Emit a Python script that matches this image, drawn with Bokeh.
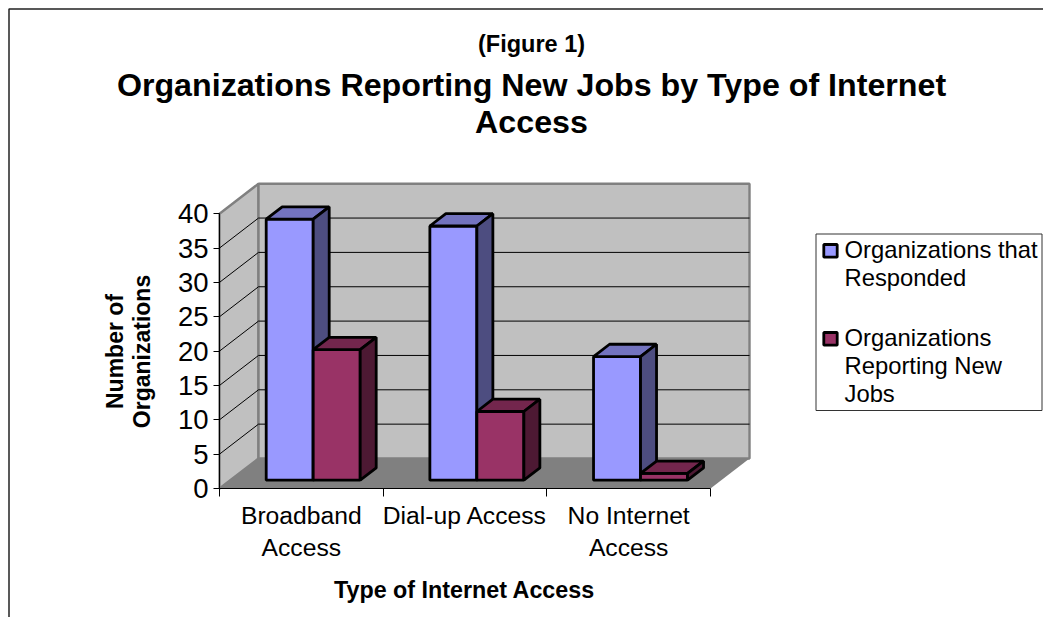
from bokeh.plotting import figure
from bokeh.models import Label, FixedTicker, BoxAnnotation, Range1d, LinearAxis
from bokeh.embed import file_html
from bokeh.resources import INLINE

categories = ["Broadband\nAccess", "Dial-up Access", "No Internet\nAccess"]
responded = [38, 37, 18]
new_jobs = [19, 10, 1]
series = [("Organizations that\nResponded", responded, "#9999FF", "#7373BF", "#4D4D80"),
          ("Organizations\nReporting New\nJobs", new_jobs, "#993366", "#73264D", "#4D1933")]
y_ticks = [0, 5, 10, 15, 20, 25, 30, 35, 40]

W, H = 1043, 617
X0, Y0 = 219, 488            # pixel position of the axes' origin
PX_X = 163.67                # px per category
PX_Y = 6.87                  # px per unit

def cx(px):  # pixel -> data x
    return (px - X0) / PX_X
def cy(px):  # pixel -> data y
    return (Y0 - px) / PX_Y

DX, DY = 39 / PX_X, 30 / PX_Y           # wall depth
BX, BY = 16 / PX_X, 12.3 / PX_Y         # bar depth
OX, OY = 46.7 / PX_X, 8.3 / PX_Y        # first bar's offset
BW = 47 / PX_X                          # bar width
EDGE = 2.8

p = figure(width=W, height=H, toolbar_location=None, output_backend="svg",
           x_range=Range1d(cx(0), cx(W)), y_range=Range1d(cy(H), cy(0)),
           min_border=0, x_axis_type=None, y_axis_type=None,
           background_fill_color="white", border_fill_color="white", outline_line_color=None)
p.grid.visible = False

# Walls and floor
GRAY = "#808080"
p.patch([0, DX, DX, 0], [0, DY, 40 + DY, 40], fill_color="#C0C0C0", line_color=GRAY, line_width=2.4)
p.patch([DX, 3 + DX, 3 + DX, DX], [DY, DY, 40 + DY, 40 + DY], fill_color="#C0C0C0", line_color=GRAY, line_width=2.4)
p.patch([0, 3, 3 + DX, DX], [0, 0, DY, DY], fill_color=GRAY, line_color=None)
for v in y_ticks[1:-1]:
    p.line([0, DX, 3 + DX], [v, v + DY, v + DY], line_color="black", line_width=1)

# Bars
for i in range(3):
    for s, (_, vals, front, top, side) in enumerate(series):
        x0 = i + OX + s * BW
        x1 = x0 + BW
        y0 = OY
        y1 = OY + vals[i]
        p.patch([x0, x1, x1, x0], [y0, y0, y1, y1], fill_color=front, line_color="black", line_width=EDGE)
        p.patch([x0, x1, x1 + BX, x0 + BX], [y1, y1, y1 + BY, y1 + BY], fill_color=top, line_color="black", line_width=EDGE)
        p.patch([x1, x1 + BX, x1 + BX, x1], [y0, y0 + BY, y1 + BY, y1], fill_color=side, line_color="black", line_width=EDGE)

# Axes
ya = LinearAxis(fixed_location=0, ticker=FixedTicker(ticks=y_ticks), bounds=(0, 40),
                major_tick_in=0, major_tick_out=6, minor_tick_in=0, minor_tick_out=0,
                axis_line_color="black", major_label_text_font="Liberation Sans",
                major_label_text_font_size="27.5px", major_label_text_color="black",
                major_label_standoff=5)
p.add_layout(ya, "left")

xa = LinearAxis(fixed_location=0,
                ticker=FixedTicker(ticks=[0.5, 1.5, 2.5], minor_ticks=[0, 1, 2, 3]),
                major_label_overrides={0.5: categories[0], 1.5: categories[1], 2.5: categories[2]},
                bounds=(0, 3), major_tick_in=0, major_tick_out=0, minor_tick_in=0, minor_tick_out=8,
                axis_line_color="black", major_label_text_font="Liberation Sans",
                major_label_text_font_size="24.7px", major_label_text_color="black",
                major_label_text_line_height=1.2, major_label_standoff=5)
p.add_layout(xa, "below")

def text(px, py, s, size, bold=False, align="left", baseline="middle", angle=0, lh=1.2):
    p.add_layout(Label(x=cx(px), y=cy(py), text=s, text_font="Liberation Sans",
                       text_font_size=f"{size}px", text_font_style="bold" if bold else "normal",
                       text_color="black", text_align=align, text_baseline=baseline,
                       angle=angle, text_line_height=lh))

# Titles
text(531, 43, "(Figure 1)", 23.5, True, "center")
text(531, 103, "Organizations Reporting New Jobs by Type of Internet\nAccess", 32.2, True, "center", lh=1.04)
text(128, 351, "Number of\nOrganizations", 23, True, "center", angle=1.5708, lh=1.06)
text(464, 589, "Type of Internet Access", 23.3, True, "center")

# Frame of the chart
p.add_layout(BoxAnnotation(left=cx(8.5), right=cx(W + 10), top=cy(8.5), bottom=cy(H + 10),
                           fill_alpha=0, line_color="#222222", line_alpha=1, line_width=1.5))
# Legend
p.add_layout(BoxAnnotation(left=cx(815.5), right=cx(1041.5), top=cy(233.5), bottom=cy(410),
                           fill_color="white", fill_alpha=1, line_color="#333333", line_alpha=1, line_width=1))
legend_y = [(242.7, 258), (330.7, 346)]
for (name, _, front, _t, _s), (t, b) in zip(series, legend_y):
    p.add_layout(BoxAnnotation(left=cx(823.3), right=cx(836.7), top=cy(t + 1.3), bottom=cy(b - 1.3),
                               fill_color=front, fill_alpha=1, line_color="black", line_alpha=1, line_width=EDGE))
    text(844, t - 7, name, 23.8, False, "left", "top", lh=1.03)

open("out.html", "w").write(file_html(p, INLINE))
